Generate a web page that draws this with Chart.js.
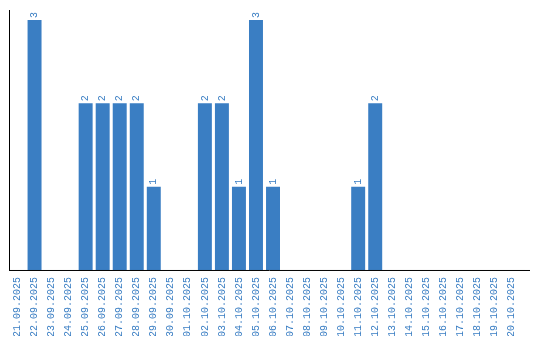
<!DOCTYPE html>
<html>
<head>
<meta charset="utf-8">
<script src="https://cdn.jsdelivr.net/npm/chart.js@4/dist/chart.umd.min.js"></script>
<style>
  html, body { margin: 0; padding: 0; background: #fff; }
  #wrap { width: 540px; height: 340px; }
</style>
</head>
<body>
<div id="wrap"><canvas id="chart"></canvas></div>
<script>
const dates = [
  "21.09.2025", "22.09.2025", "23.09.2025", "24.09.2025", "25.09.2025",
  "26.09.2025", "27.09.2025", "28.09.2025", "29.09.2025", "30.09.2025",
  "01.10.2025", "02.10.2025", "03.10.2025", "04.10.2025", "05.10.2025",
  "06.10.2025", "07.10.2025", "08.10.2025", "09.10.2025", "10.10.2025",
  "11.10.2025", "12.10.2025", "13.10.2025", "14.10.2025", "15.10.2025",
  "16.10.2025", "17.10.2025", "18.10.2025", "19.10.2025", "20.10.2025"
];
const counts = [0, 3, 0, 0, 2, 2, 2, 2, 1, 0, 0, 2, 2, 1, 3, 1, 0, 0, 0, 0, 1, 2, 0, 0, 0, 0, 0, 0, 0, 0];

const blue = "#3a7ec3";
const monoFont = "'Liberation Mono', 'DejaVu Sans Mono', monospace";

// draws the value above each bar, turned like the date labels
const barValues = {
  id: "barValues",
  afterDatasetsDraw(chart) {
    const ctx = chart.ctx;
    const meta = chart.getDatasetMeta(0);
    ctx.save();
    ctx.fillStyle = blue;
    ctx.font = "10px " + monoFont;
    ctx.textAlign = "left";
    ctx.textBaseline = "middle";
    meta.data.forEach((bar, i) => {
      if (!counts[i]) return;
      ctx.save();
      ctx.translate(bar.x, bar.y - 2);
      ctx.rotate(-Math.PI / 2);
      ctx.fillText(String(counts[i]), 0, 0);
      ctx.restore();
    });
    ctx.restore();
  }
};

// the bottom axis line runs a little past the last bar
const axisLine = {
  id: "axisLine",
  afterDraw(chart) {
    const { ctx, chartArea } = chart;
    ctx.save();
    ctx.strokeStyle = "#000";
    ctx.lineWidth = 1;
    ctx.beginPath();
    ctx.moveTo(chartArea.left, chartArea.bottom + 0.5);
    ctx.lineTo(chartArea.right + 10, chartArea.bottom + 0.5);
    ctx.moveTo(chartArea.left + 0.5, chartArea.top);
    ctx.lineTo(chartArea.left + 0.5, chartArea.bottom);
    ctx.stroke();
    ctx.restore();
  }
};

new Chart(document.getElementById("chart"), {
  type: "bar",
  data: {
    labels: dates,
    datasets: [{
      data: counts,
      backgroundColor: blue,
      barPercentage: 0.82,
      categoryPercentage: 1
    }]
  },
  options: {
    responsive: true,
    maintainAspectRatio: false,
    animation: false,
    layout: { padding: { left: 9, right: 20, top: 10, bottom: 4 } },
    plugins: {
      legend: { display: false },
      tooltip: { enabled: false }
    },
    scales: {
      x: {
        grid: { display: false },
        border: { display: false },
        ticks: {
          color: blue,
          font: { family: monoFont, size: 10 },
          minRotation: 90,
          maxRotation: 90,
          autoSkip: false,
          padding: -1
        }
      },
      y: {
        display: false,
        min: 0,
        max: 3.12
      }
    }
  },
  plugins: [barValues, axisLine]
});
</script>
</body>
</html>
